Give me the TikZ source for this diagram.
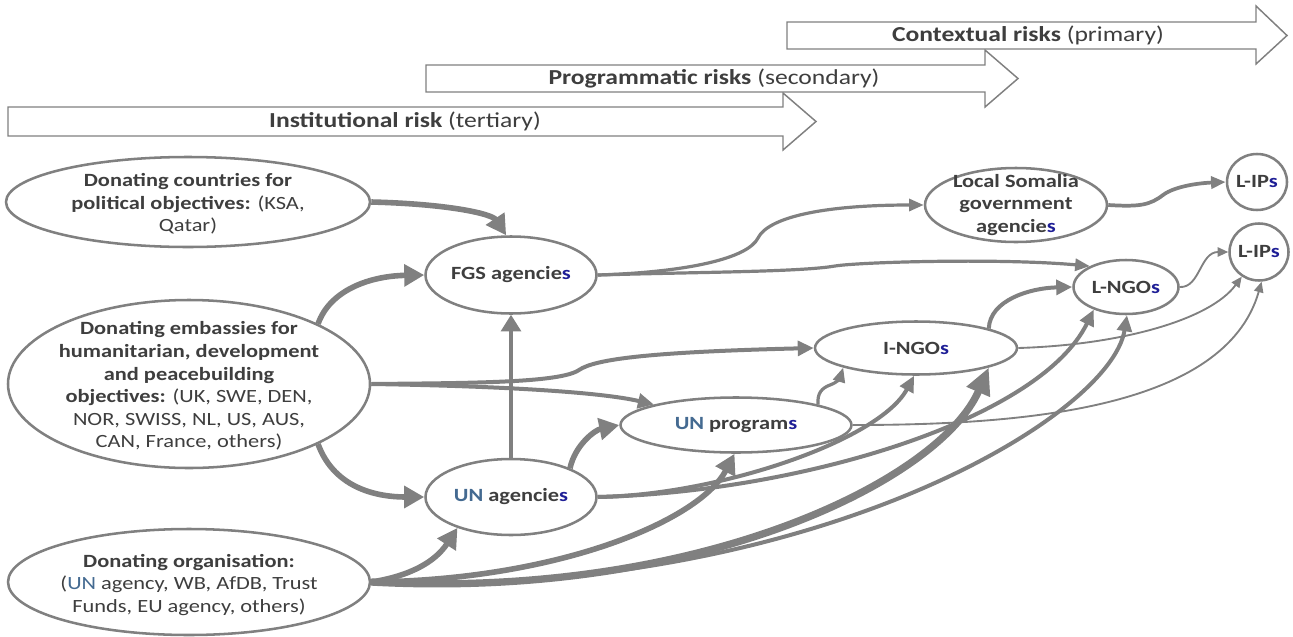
\documentclass[tikz,border=0pt]{standalone}
\usepackage{fontspec}
\setmainfont{Carlito}[FakeStretch=1.2]
\usetikzlibrary{arrows.meta,shapes.geometric}

\definecolor{linegray}{RGB}{128,128,128}
\definecolor{txtgray}{RGB}{62,62,62}
\definecolor{unblue}{RGB}{68,106,145}
\definecolor{sblue}{RGB}{30,30,150}

\newdimen\pxu \pxu=0.75pt
\newcommand\plS[1]{\textcolor{sblue}{#1}}
\newcommand\unt{\textcolor{unblue}{UN}}

\begin{document}
\begin{tikzpicture}[x=0.75pt,y=-0.75pt,
  blob/.style={ellipse,draw=linegray,line width=1.9pt,fill=white,inner sep=0pt},
  txt/.style={text=txtgray,align=center,inner sep=0pt,font=\fontsize{14}{16.9}\selectfont},
  risktxt/.style={text=txtgray,inner sep=0pt,font=\fontsize{16}{19}\selectfont},
  riskbar/.style={draw=linegray,line width=1.1pt,fill=white,line join=miter},
  link/.style n args={3}{draw=linegray,line width=#1,-{Triangle[length=#2,width=#3]}},
  fatlink/.style={link={5.5pt}{20pt}{18pt}},
  boldlink/.style={link={4.2pt}{15pt}{16pt}},
  midlink/.style={link={3pt}{12pt}{11pt}},
  slimlink/.style={link={2.4pt}{11pt}{9pt}},
  finelink/.style={link={1.4pt}{8pt}{7pt}}
]
\useasboundingbox (0,0) rectangle (1293,636);

% ---- risk bands ----
\draw[riskbar] (8,107) -- (783,107) -- (783,93) -- (816,121.5) -- (783,150) -- (783,136) -- (8,136) -- cycle;
\draw[riskbar] (426,65) -- (985,65) -- (985,50) -- (1018,78.5) -- (985,107) -- (985,92) -- (426,92) -- cycle;
\draw[riskbar] (787,22) -- (1256,22) -- (1256,6) -- (1287,35.5) -- (1256,64) -- (1256,49) -- (787,49) -- cycle;
\node[risktxt] (inst) at (405,121.5) {\textbf{Institutional risk} (tertiary)};
\node[risktxt] (prog) at (714,78.5) {\textbf{Programmatic risks} (secondary)};
\node[risktxt] (cont) at (1028,35.5) {\textbf{Contextual risks} (primary)};

% ---- actors ----
\node[blob,minimum width=364\pxu,minimum height=90\pxu] (dc) at (188,202) {};
\node[blob,minimum width=362\pxu,minimum height=168\pxu] (de) at (189,384) {};
\node[blob,minimum width=362\pxu,minimum height=106\pxu] (do) at (189,582) {};
\node[blob,minimum width=171\pxu,minimum height=77\pxu] (fgs) at (511,275) {};
\node[blob,minimum width=171\pxu,minimum height=76\pxu] (una) at (511,497) {};
\node[blob,minimum width=231\pxu,minimum height=55\pxu] (unp) at (736,425) {};
\node[blob,minimum width=202\pxu,minimum height=53\pxu] (ingo) at (916,348) {};
\node[blob,minimum width=105\pxu,minimum height=54\pxu] (lngo) at (1126,287) {};
\node[blob,minimum width=182\pxu,minimum height=74\pxu] (ls) at (1016,205) {};
\node[blob,minimum width=60\pxu,minimum height=56\pxu] (lip1) at (1257,182) {};
\node[blob,minimum width=59\pxu,minimum height=57\pxu] (lip2) at (1259,252) {};

\node[txt] (dc-t) at (188,204) {\textbf{Donating countries for}\\\textbf{political objectives:} (KSA,\\Qatar)};
\node[txt] (de-t) at (189,386) {\textbf{Donating embassies for}\\\textbf{humanitarian, development}\\\textbf{and peacebuilding}\\\textbf{objectives:} (UK, SWE, DEN,\\NOR, SWISS, NL, US, AUS,\\CAN, France, others)};
\node[txt] (do-t) at (189,585) {\textbf{Donating organisation:}\\(\unt{} agency, WB, AfDB, Trust\\Funds, EU agency, others)};
\node[txt] (fgs-t) at (fgs) {\textbf{FGS agencie\plS{s}}};
\node[txt] (una-t) at (una) {\textbf{\unt{} agencie\plS{s}}};
\node[txt] (unp-t) at (unp) {\textbf{\unt{} program\plS{s}}};
\node[txt] (ingo-t) at (ingo) {\textbf{I-NGO\plS{s}}};
\node[txt] (lngo-t) at (lngo) {\textbf{L-NGO\plS{s}}};
\node[txt] (ls-t) at (ls) {\textbf{Local Somalia}\\\textbf{government}\\\textbf{agencie\plS{s}}};
\node[txt] (lip1-t) at (lip1) {\textbf{L-IP\plS{s}}};
\node[txt] (lip2-t) at (lip2) {\textbf{L-IP\plS{s}}};

% ---- flows from the donors ----
\draw[boldlink] (dc.east) .. controls (450,204) and (492,214) .. (fgs.97);
\draw[boldlink] (de.25) .. controls (330,290) and (370,276) .. (fgs.west);
\draw[boldlink] (de.-25) .. controls (335,490) and (380,497) .. (una.west);
\draw[midlink] (de.east) .. controls (470,383) and (560,383) .. (579,370)
                 .. controls (595,359) and (650,352) .. (ingo.west);
\draw[midlink] (de.east) .. controls (500,386) and (600,392) .. (unp.166);

\draw[boldlink] (do.east) .. controls (410,576) and (435,562) .. (una.-150);
\draw[boldlink] (do.east) .. controls (560,580) and (700,520) .. (unp.-93);
\draw[fatlink]  (do.east) .. controls (700,600) and (940,480) .. (ingo.-15);
\draw[midlink]  (do.east) .. controls (800,600) and (1110,420) .. (lngo.-88);

% ---- flows from the UN ----
\draw[slimlink,-{Triangle[length=12.5pt,width=15pt]}] (una.north) -- (fgs.south);
\draw[boldlink] (una.26) .. controls (575,445) and (595,430) .. (unp.west);
\draw[midlink] (una.east) .. controls (720,495) and (880,440) .. (ingo.-94);
\draw[midlink] (una.east) .. controls (800,492) and (1040,420) .. (lngo.-145);

\draw[slimlink] (unp.14) .. controls (817,393) and (822,388) .. (830,385)
                  .. controls (838,382) and (840,378) .. (ingo.-165);
\draw[finelink] (unp.east) .. controls (1020,425) and (1225,410) .. (lip2.-85);

% ---- flows from the FGS ----
\draw[slimlink] (fgs.east) .. controls (690,272) and (748,258) .. (758,238)
                  .. controls (768,218) and (820,205) .. (ls.west);
\draw[slimlink] (fgs.east) .. controls (700,272) and (800,272) .. (835,266)
                  .. controls (860,262) and (1000,258) .. (lngo.150);

% ---- flows to the local partners ----
\draw[midlink] (ingo.15) .. controls (990,300) and (1030,288) .. (lngo.west);
\draw[finelink] (ingo.east) .. controls (1120,345) and (1210,320) .. (lip2.-125);
\draw[finelink] (lngo.east) .. controls (1200,288) and (1200,252) .. (lip2.west);
\draw[slimlink,line width=2.8pt] (ls.east) .. controls (1140,207) and (1150,205) .. (1163,195)
                  .. controls (1175,186) and (1200,183) .. (lip1.west);
\end{tikzpicture}
\end{document}
